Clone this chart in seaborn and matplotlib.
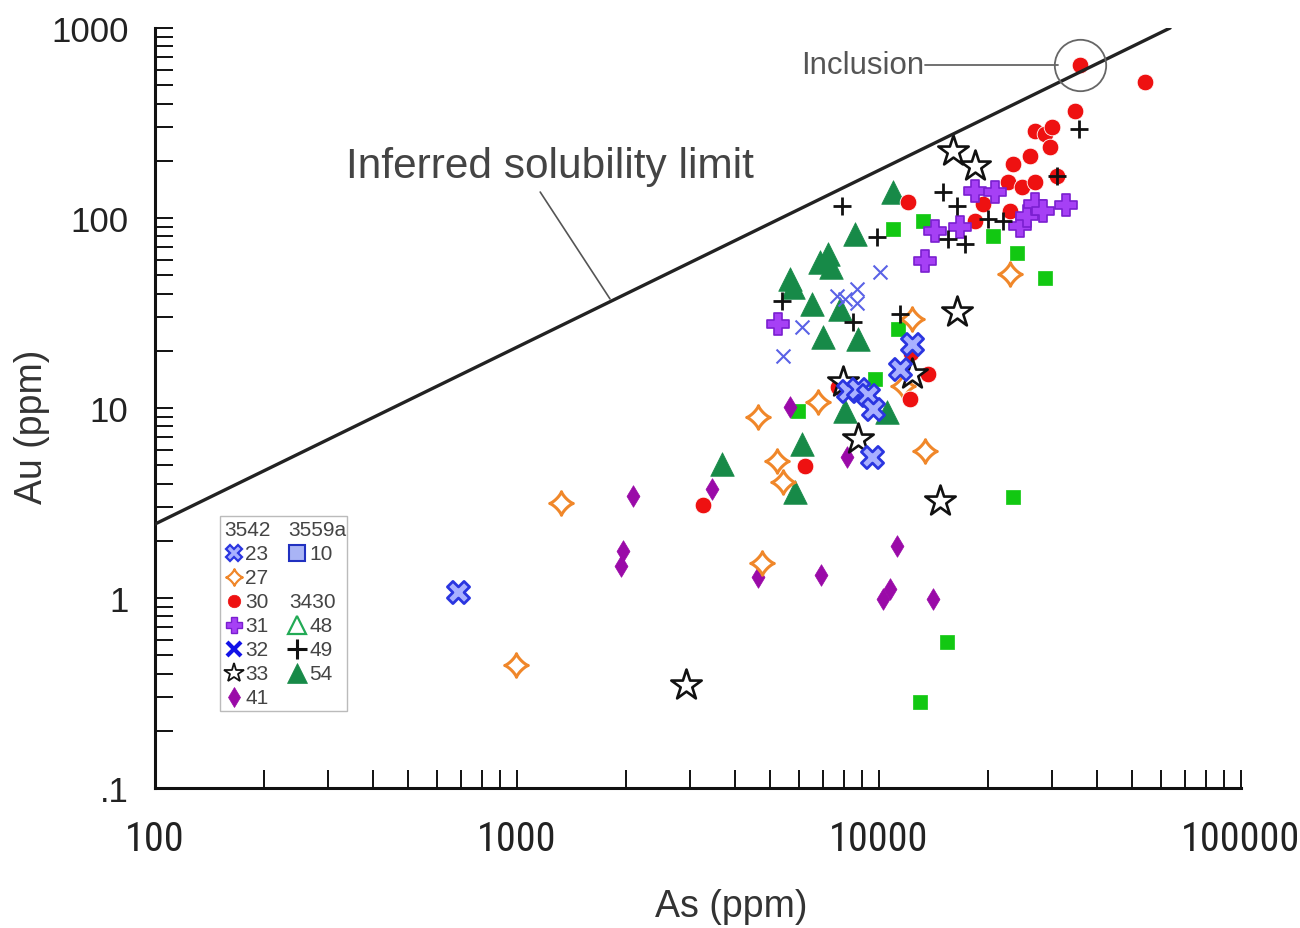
import numpy as np
import pandas as pd
import matplotlib
matplotlib.use("Agg")
import matplotlib.pyplot as plt
import seaborn as sns
from matplotlib.path import Path
from matplotlib.lines import Line2D
from matplotlib.patches import Rectangle
from matplotlib import font_manager

# ---------------- data (As ppm, Au ppm) ----------------
s23_as = [688, 12330, 11430, 8200, 8750, 9330, 9620, 9570]
s23_au = [1.08, 21.7, 16.0, 12.3, 12.6, 11.7, 9.9, 5.5]

s27_as = [1324, 994, 4750, 4630, 5230, 6780, 5430, 11640, 13400, 12330, 23000]
s27_au = [3.16, 0.444, 1.53, 8.98, 5.26, 10.8, 4.08, 13.1, 5.94, 29.4, 50.7]

s30_as = [3270, 6250, 13650, 12190, 12250, 7710, 12020, 35900, 54300, 34760,
          26980, 28760, 30080, 29670, 26120, 23450, 22710, 24810, 26980, 19370,
          23000, 18410, 31050]
s30_au = [3.08, 4.96, 15.1, 11.1, 19.5, 12.9, 121, 638, 520, 366,
          287, 277, 301, 236, 212, 192, 155, 146, 155, 119,
          109, 96, 166]

s31_as = [5260, 13400, 14290, 16750, 18410, 20900, 24520, 25640, 26980, 28370, 32880]
s31_au = [27.7, 59.4, 85.5, 89.7, 139, 137, 90.8, 103, 119, 109, 117]

s32_as = [10070, 7660, 8690, 8690, 6120, 5430, 8060]
s32_au = [52.0, 38.8, 42.3, 35.7, 26.7, 18.8, 37.5]

s33_as = [2930, 14720, 8750, 16400, 16000, 18410, 12330, 7960]
s33_au = [0.348, 3.25, 6.87, 32.0, 226, 188, 15.1, 13.7]

s41_as = [2090, 3460, 1963, 1936, 4630, 5680, 8170, 6920, 11220, 10710, 10250, 14090]
s41_au = [3.44, 3.75, 1.77, 1.47, 1.29, 10.1, 5.52, 1.32, 1.88, 1.11, 0.99, 0.99]

s10_as = [15420, 12970, 23450, 28760, 24040, 20650, 10940, 13250, 11280, 9750, 5970]
s10_au = [0.586, 0.284, 3.40, 48.3, 65.5, 80.4, 87.5, 96, 26.1, 14.2, 9.64]

s49_as = [35640, 31050, 15030, 16400, 15530, 17310, 19990, 22010, 7910, 9860,
          5390, 8480, 11430]
s49_au = [294, 166, 137, 116, 77.4, 72.9, 98.8, 96.3, 116, 79.4,
          36.6, 28.4, 31.3]

s54_as = [10940, 8590, 7230, 6870, 7370, 5680, 5780, 6530, 7800, 7000, 8750,
          8060, 10510, 6120, 5860, 3680]
s54_au = [137, 82.4, 64.7, 58.6, 55.2, 47.8, 43.4, 35.3, 33.2, 23.5, 23.0,
          9.64, 9.53, 6.47, 3.61, 5.07]

# solubility limit line endpoints (As, Au)
limit_as = [100, 63700]
limit_au = [2.45, 1000]

x_ticks = [100, 1000, 10000, 100000]
x_ticklabels = ["100", "1000", "10000", "100000"]
y_ticks = [0.1, 1, 10, 100, 1000]
y_ticklabels = [".1", "1", "10", "100", "1000"]

legend_col1 = ["23", "27", "30", "31", "32", "33", "41"]
legend_col2 = ["10", "48", "49", "54"]

# ---------------- style ----------------
sns.set_theme(style="white")
plt.rcParams['font.family'] = ['Liberation Sans', 'DejaVu Sans']

available = {f.name for f in font_manager.fontManager.ttflist}
narrow = None
for cand in ['Liberation Sans Narrow', 'DejaVu Sans Condensed', 'Roboto Condensed',
             'Open Sans Condensed', 'Noto Sans Condensed']:
    if cand in available:
        narrow = cand
        break
if narrow is None:
    XT_FAMILY, XT_SIZE = 'Liberation Sans', 24.5
else:
    XT_FAMILY, XT_SIZE = narrow, 29

# concave-diamond marker
t = np.linspace(0, 2 * np.pi, 121)
pw = 2.0 / 0.78
cx = np.sign(np.cos(t)) * np.abs(np.cos(t)) ** pw
cy = np.sign(np.sin(t)) * np.abs(np.sin(t)) ** pw
star4 = Path(np.column_stack([cx, cy]), closed=True)

fig = plt.figure(figsize=(13, 9.29), dpi=100)
W, H = 1300, 929
ax = fig.add_axes([155 / W, 1 - 789 / H, (1241 - 155) / W, (789 - 29) / H])
ax.set_xscale('log')
ax.set_yscale('log')
ax.set_xlim(100, 100000)
ax.set_ylim(0.1, 1000)

def sc(xs, ys, **kw):
    sns.scatterplot(x=xs, y=ys, ax=ax, legend=False, zorder=3, **kw)

DKGREEN = '#178a48'
sc(s54_as, s54_au, marker='^', s=17 ** 2, color=DKGREEN, edgecolor=DKGREEN, linewidth=0.5)
sc(s10_as, s10_au, marker='s', s=10 ** 2, color='#12c812', edgecolor='#12c812', linewidth=0.5)
sc(s41_as, s41_au, marker='d', s=11 ** 2, color='#9a0aa8', edgecolor='#9a0aa8', linewidth=0.5)
sc(s27_as, s27_au, marker=star4, s=17 ** 2, facecolor='white', edgecolor='#f0872a', linewidth=2.2)
sc(s30_as, s30_au, marker='o', s=12 ** 2, color='#ee1111', edgecolor='white', linewidth=0.6)
sc(s31_as, s31_au, marker='P', s=16 ** 2, color='#a640f5', edgecolor='#7a1fd0', linewidth=1.2)
sc(s33_as, s33_au, marker='*', s=23 ** 2, facecolor='white', edgecolor='#111111', linewidth=1.9)
sc(s23_as, s23_au, marker='X', s=16 ** 2, facecolor='#a9b0ff', edgecolor='#2a35e0', linewidth=2.0)
sc(s32_as, s32_au, marker='x', s=10 ** 2, color='#5a62e6', linewidth=1.5)
sc(s49_as, s49_au, marker='+', s=13 ** 2, color='#111111', linewidth=2.0)

# solubility limit
sns.lineplot(x=limit_as, y=limit_au, ax=ax, color='#222222', linewidth=2.4, zorder=4)
ax.text(1233, 188, "Inferred solubility limit", fontsize=30.5, color='#444444',
        ha='center', va='center', zorder=5)
ax.plot([1159, 1807], [137, 37.5], color='#555555', linewidth=1.2, zorder=4)

# inclusion annotation
ax.plot([35900], [638], marker='o', ms=37, mfc='none', mec='#666666', mew=1.3, zorder=5)
ax.plot([13400, 31300], [638, 638], color='#666666', linewidth=1.3, zorder=5)
ax.text(13300, 638, "Inclusion", fontsize=22.5, color='#555555', ha='right', va='center', zorder=5)

# axes styling
for sp in ['top', 'right']:
    ax.spines[sp].set_visible(False)
for sp in ['left', 'bottom']:
    ax.spines[sp].set_color('#111111')
    ax.spines[sp].set_linewidth(2.2)
ax.tick_params(which='both', direction='in', length=13, width=1.4, color='#111111',
               left=True, bottom=True, top=False, right=False)
ax.set_xticks(x_ticks)
ax.set_xticklabels(x_ticklabels, fontsize=XT_SIZE, color='#222222', fontfamily=XT_FAMILY)
ax.set_yticks(y_ticks)
ax.set_yticklabels(y_ticklabels, fontsize=25, color='#222222')
ax.tick_params(axis='x', which='major', pad=22)
ax.tick_params(axis='y', which='major', pad=19)
ax.xaxis.set_minor_locator(matplotlib.ticker.LogLocator(base=10, subs=np.arange(2, 10), numticks=20))
ax.yaxis.set_minor_locator(matplotlib.ticker.LogLocator(base=10, subs=np.arange(2, 10), numticks=20))
ax.xaxis.set_minor_formatter(matplotlib.ticker.NullFormatter())
ax.yaxis.set_minor_formatter(matplotlib.ticker.NullFormatter())
ax.set_xlabel("As (ppm)", fontsize=27, color='#333333')
ax.set_ylabel("Au (ppm)", fontsize=27, color='#333333')
ax.xaxis.set_label_coords((731 - 155) / 1086, (789 - 907) / 760)
ax.xaxis.label.set_va('center')
ax.yaxis.set_label_coords((32 - 155) / 1086, (789 - 427) / 760)
ax.yaxis.label.set_va('center')

# ---------------- legend (manual, axes fraction) ----------------
def fx(px):
    return (px - 155) / 1086.0

def fy(py):
    return (789 - py) / 760.0

box = Rectangle((fx(220), fy(712)), fx(347) - fx(220), fy(517) - fy(712),
                transform=ax.transAxes, facecolor='white', edgecolor='#bbbbbb',
                linewidth=1.0, zorder=6)
ax.add_patch(box)
rows = [530, 554, 578, 602, 626, 650, 674, 698]
LFS = 15
LCOL = '#444444'
ax.text(fx(224), fy(rows[0]), "3542", transform=ax.transAxes, fontsize=LFS, color=LCOL,
        va='center', ha='left', zorder=7)
ax.text(fx(288), fy(rows[0]), "3559a", transform=ax.transAxes, fontsize=LFS, color=LCOL,
        va='center', ha='left', zorder=7)
ax.text(fx(289), fy(rows[3]), "3430", transform=ax.transAxes, fontsize=LFS, color=LCOL,
        va='center', ha='left', zorder=7)

col1_styles = [
    dict(marker='X', ms=12, mfc='#a9b0ff', mec='#2a35e0', mew=1.6),
    dict(marker=star4, ms=12, mfc='white', mec='#f0872a', mew=1.6),
    dict(marker='o', ms=9, mfc='#ee1111', mec='#ee1111', mew=0.5),
    dict(marker='P', ms=12, mfc='#a640f5', mec='#7a1fd0', mew=1.0),
    dict(marker='x', ms=10, mfc='none', mec='#1212e8', mew=3.0),
    dict(marker='*', ms=15, mfc='white', mec='#111111', mew=1.3),
    dict(marker='d', ms=10, mfc='#9a0aa8', mec='#9a0aa8', mew=0.5),
]
for i, (lab, st) in enumerate(zip(legend_col1, col1_styles)):
    y = fy(rows[i + 1])
    ax.add_line(Line2D([fx(234)], [y], transform=ax.transAxes, linestyle='none', zorder=7, **st))
    ax.text(fx(245), y, lab, transform=ax.transAxes, fontsize=LFS, color=LCOL,
            va='center', ha='left', zorder=7)

col2_rows = [rows[1], rows[4], rows[5], rows[6]]
col2_styles = [
    dict(marker='s', ms=12, mfc='#a9b4f5', mec='#2030c0', mew=1.5),
    dict(marker='^', ms=13, mfc='white', mec='#22aa55', mew=1.6),
    dict(marker='+', ms=14, mfc='none', mec='#111111', mew=2.2),
    dict(marker='^', ms=14, mfc=DKGREEN, mec=DKGREEN, mew=0.5),
]
for lab, st, r in zip(legend_col2, col2_styles, col2_rows):
    y = fy(r)
    ax.add_line(Line2D([fx(297)], [y], transform=ax.transAxes, linestyle='none', zorder=7, **st))
    ax.text(fx(309), y, lab, transform=ax.transAxes, fontsize=LFS, color=LCOL,
            va='center', ha='left', zorder=7)

fig.savefig("out.png", dpi=100, facecolor='white')
